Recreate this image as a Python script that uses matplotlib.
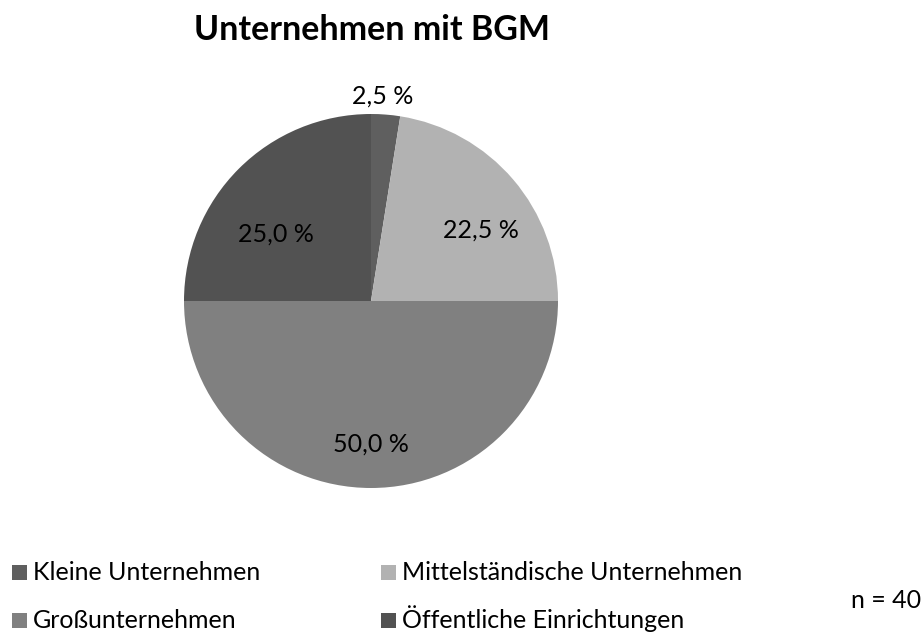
import matplotlib.pyplot as plt
from matplotlib.patches import Rectangle
import numpy as np

plt.rcParams['font.family'] = ['Lato', 'DejaVu Sans']

categories = ['Kleine Unternehmen', 'Mittelständische Unternehmen',
              'Großunternehmen', 'Öffentliche Einrichtungen']
shares = [2.5, 22.5, 50.0, 25.0]
colors = ['#5f5f5f', '#b2b2b2', '#808080', '#525252']
n_total = 40

W, H = 923, 632
fig = plt.figure(figsize=(W / 100, H / 100), dpi=100)

# pie axes: center (371, 301), radius 187 px
cx, cy, r = 371, 301, 187
ax = fig.add_axes([(cx - r) / W, (H - cy - r) / H, 2 * r / W, 2 * r / H])
wedges, _ = ax.pie(shares, colors=colors, startangle=90, counterclock=False,
                   radius=1, wedgeprops=dict(linewidth=0))
ax.set_xlim(-1, 1)
ax.set_ylim(-1, 1)
ax.set_aspect('equal')
ax.axis('off')

# label placement per slice: distance (fraction of radius), angle shift from wedge middle
label_r = [1.10, 0.70, 0.765, 0.62]
label_shift = [1.2, -7.5, 0.0, 9.8]
for w, val, lr, sh in zip(wedges, shares, label_r, label_shift):
    ang = np.deg2rad((w.theta1 + w.theta2) / 2 + sh)
    ax.text(lr * np.cos(ang), lr * np.sin(ang), f"{val:.1f} %".replace('.', ','),
            ha='center', va='center', fontsize=18, color='black', clip_on=False)

fig.text(372 / W, 1 - 40 / H, 'Unternehmen mit BGM', ha='center', va='baseline',
         fontsize=24.5, fontweight='bold')

# legend drawn by hand: 2 columns, row-major like Excel
col_x = [12, 381]
row_y = [572.5, 620.5]
box = 14.5
for i, (cat, col) in enumerate(zip(categories, colors)):
    x0 = col_x[i % 2]
    yc = row_y[i // 2]
    fig.patches.append(Rectangle((x0 / W, (H - yc - box / 2) / H), box / W, box / H,
                                 transform=fig.transFigure, facecolor=col,
                                 edgecolor='none'))
    fig.text((x0 + 21) / W, 1 - (yc + 8) / H, cat, ha='left', va='baseline', fontsize=18)

fig.text(886 / W, 1 - 600 / H, f'n = {n_total}', ha='center', va='center', fontsize=18)

fig.savefig('out.png', dpi=100)
